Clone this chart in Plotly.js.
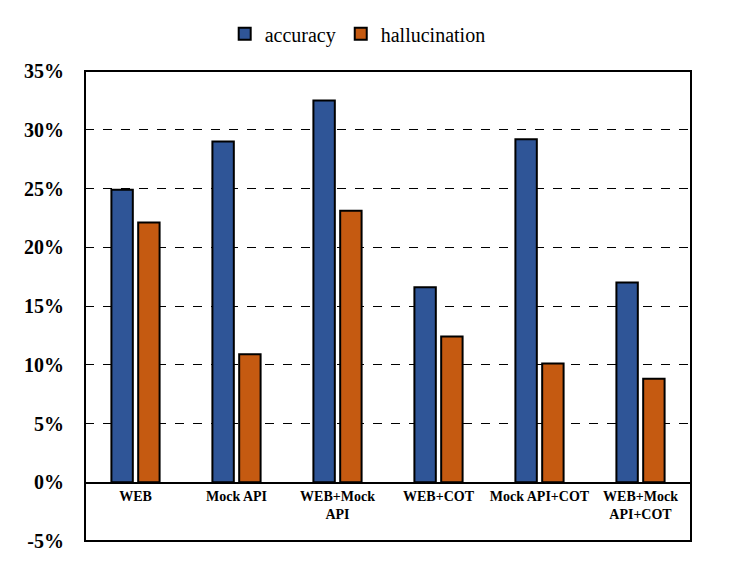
<!DOCTYPE html>
<html>
<head>
<meta charset="utf-8">
<script src="https://cdn.plot.ly/plotly-3.0.1.min.js"></script>
<style>html,body{margin:0;padding:0;background:#fff;}#chart{width:747px;height:561px;}</style>
</head>
<body>
<div id="chart"></div>
<script>
var categories = ["WEB", "Mock API", "WEB+Mock<br>API", "WEB+COT", "Mock API+COT", "WEB+Mock<br>API+COT"];
var accuracy = [0.249, 0.290, 0.325, 0.166, 0.292, 0.170];
var hallucination = [0.221, 0.109, 0.231, 0.124, 0.101, 0.088];
var yTicks = [-0.05, 0, 0.05, 0.10, 0.15, 0.20, 0.25, 0.30, 0.35];
var yTickText = ["-5%", "0%", "5%", "10%", "15%", "20%", "25%", "30%", "35%"];

var serif = "Liberation Serif";
var traces = [
  {type: "bar", name: "accuracy", x: categories, y: accuracy,
   marker: {color: "#2F5597", line: {color: "#000", width: 2}}},
  {type: "bar", name: "hallucination", x: categories, y: hallucination,
   marker: {color: "#C55A11", line: {color: "#000", width: 2}}}
];
var layout = {
  width: 747, height: 561,
  margin: {l: 85, r: 56, t: 71, b: 20},
  paper_bgcolor: "#fff", plot_bgcolor: "#fff",
  font: {family: serif, color: "#000"},
  barmode: "group", bargap: 0.47, bargroupgap: 0.2,
  showlegend: true,
  legend: {orientation: "h", x: 0.45, xanchor: "center", y: 1.079, yanchor: "middle",
           yref: "paper", font: {family: serif, size: 20, color: "#000"},
           bgcolor: "rgba(0,0,0,0)", itemwidth: 16, traceorder: "normal"},
  xaxis: {anchor: "free", position: 0.125, showline: true, linecolor: "#000", linewidth: 1.5,
          ticks: "", showgrid: false, zeroline: false,
          tickfont: {family: serif, size: 14, color: "#000", weight: "bold"}},
  yaxis: {range: [-0.05, 0.35], tickvals: yTicks, ticktext: yTickText,
          showgrid: true, gridcolor: "#000", gridwidth: 1, griddash: "dash",
          zeroline: false, showline: false, ticks: "", ticklabelstandoff: 20,
          tickfont: {family: serif, size: 20, color: "#000", weight: "bold"}},
  shapes: [{type: "rect", xref: "paper", yref: "paper", x0: 0, x1: 1, y0: 0, y1: 1,
            line: {color: "#000", width: 2}}]
};
Plotly.newPlot("chart", traces, layout, {displayModeBar: false, staticPlot: true});
</script>
</body>
</html>
